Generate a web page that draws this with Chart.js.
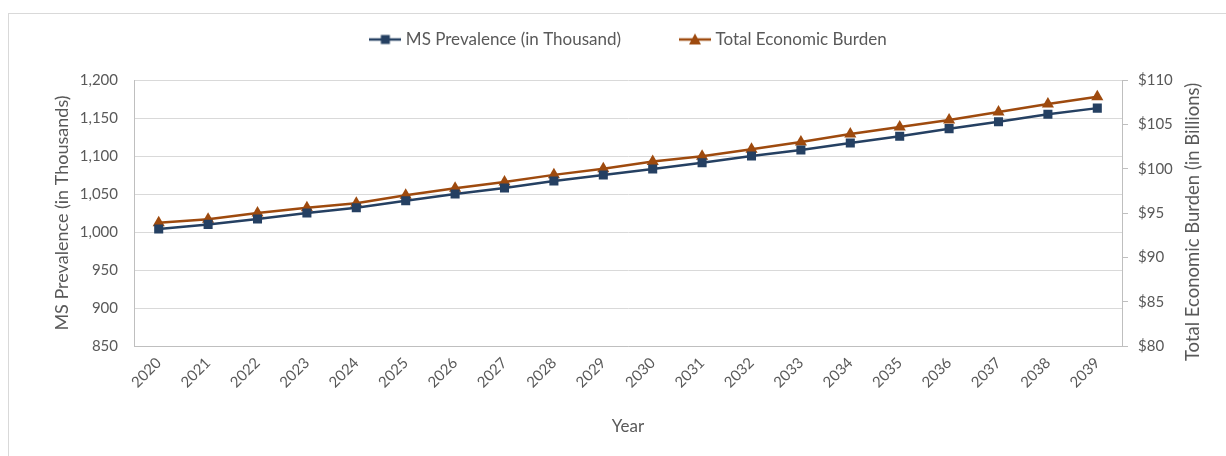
<!DOCTYPE html>
<html>
<head>
<meta charset="utf-8">
<script src="https://cdn.jsdelivr.net/npm/chart.js@4.4.1/dist/chart.umd.min.js"></script>
<style>
  html, body { margin: 0; padding: 0; background: #fff; }
  #frame { position: absolute; left: 8px; top: 13px; width: 1300px; height: 500px;
           border-left: 1px solid #d9d9d9; border-top: 1px solid #d9d9d9; }
  #wrap { position: absolute; left: 0; top: 0; width: 1226px; height: 456px; }
</style>
</head>
<body>
<div id="frame"></div>
<div id="wrap"><canvas id="myChart" width="1226" height="456"></canvas></div>
<script>
var years = ['2020', '2021', '2022', '2023', '2024', '2025', '2026', '2027', '2028', '2029',
             '2030', '2031', '2032', '2033', '2034', '2035', '2036', '2037', '2038', '2039'];
var prevalence = [1004, 1010, 1017, 1025, 1032, 1041, 1050, 1058, 1067, 1075,
                  1083, 1091, 1100, 1108, 1117, 1126, 1136, 1145, 1155, 1163];
var burden = [93.9, 94.3, 95.0, 95.6, 96.1, 97.0, 97.8, 98.5, 99.3, 100.0,
              100.8, 101.4, 102.2, 103.0, 103.9, 104.7, 105.5, 106.4, 107.3, 108.1];
var leftTicks = [850, 900, 950, 1000, 1050, 1100, 1150, 1200];
var rightTicks = [80, 85, 90, 95, 100, 105, 110];

var azul = '#254062';
var naranja = '#9e4a0e';
var gris = '#595959';

// simbolos de leyenda: linea con marcador encima
function simbolo(color, tipo) {
    var c = document.createElement('canvas');
    c.width = 32; c.height = 14;
    var g = c.getContext('2d');
    g.strokeStyle = color; g.lineWidth = 2.5;
    g.beginPath(); g.moveTo(0, 7); g.lineTo(32, 7); g.stroke();
    g.fillStyle = color;
    if (tipo === 'rect') {
        g.fillRect(11.5, 2.5, 9, 9);
    } else {
        g.beginPath(); g.moveTo(16, 1); g.lineTo(22, 12); g.lineTo(10, 12); g.closePath(); g.fill();
    }
    return c;
}
var simbolos = [simbolo(azul, 'rect'), simbolo(naranja, 'tri')];

var ajustes = {
    id: 'ajustes',
    beforeInit: function (chart) {
        // alto fijo para la leyenda, el area del grafico empieza en y=80
        var fit = chart.legend.fit;
        chart.legend.fit = function () {
            fit.call(this);
            this.height = 80;
        };
    },
    afterLayout: function (chart) {
        chart.legend.left += 17;
        chart.legend.right += 17;
        chart.legend.top -= 31;
        chart.legend.bottom -= 31;
    },
    afterDraw: function (chart) {
        var ctx = chart.ctx;
        ctx.save();
        ctx.translate(1193, 222);
        ctx.rotate(-Math.PI / 2);
        ctx.font = '18.5px Lato';
        ctx.fillStyle = gris;
        ctx.textAlign = 'center';
        ctx.textBaseline = 'middle';
        ctx.fillText('Total Economic Burden (in Billions)', 0, 0);
        ctx.restore();
    }
};

var ctx = document.getElementById('myChart').getContext('2d');
var chart = new Chart(ctx, {
    type: 'line',
    data: {
        labels: years,
        datasets: [{
            label: 'MS Prevalence (in Thousand)',
            data: prevalence,
            yAxisID: 'y',
            borderColor: azul,
            backgroundColor: azul,
            borderWidth: 2.5,
            pointStyle: 'rect',
            pointRadius: 6.4,
            pointBorderWidth: 0,
            tension: 0
        }, {
            label: 'Total Economic Burden',
            data: burden,
            yAxisID: 'y1',
            borderColor: naranja,
            backgroundColor: naranja,
            borderWidth: 2.5,
            pointStyle: 'triangle',
            pointRadius: 7,
            pointBorderWidth: 0,
            tension: 0
        }]
    },
    options: {
        responsive: false,
        animation: false,
        layout: { padding: { left: 0, right: 0, top: 0, bottom: 0 } },
        plugins: {
            tooltip: { enabled: false },
            legend: {
                position: 'top',
                labels: {
                    usePointStyle: true,
                    pointStyleWidth: 24,
                    padding: 62,
                    color: gris,
                    font: { family: 'Lato', size: 17 },
                    generateLabels: function (ch) {
                        var items = Chart.defaults.plugins.legend.labels.generateLabels(ch);
                        items.forEach(function (it, i) { it.pointStyle = simbolos[i]; });
                        return items;
                    }
                }
            }
        },
        scales: {
            x: {
                type: 'category',
                offset: true,
                grid: { display: false, drawTicks: false },
                border: { color: '#bfbfbf', width: 1 },
                ticks: {
                    color: gris,
                    font: { family: 'Lato', size: 15 },
                    minRotation: 45,
                    maxRotation: 45,
                    padding: 8
                },
                title: {
                    display: true,
                    text: 'Year',
                    color: gris,
                    font: { family: 'Lato', size: 17 },
                    padding: { top: 4, bottom: 19 }
                },
                afterFit: function (s) { s.height = 110; }
            },
            y: {
                position: 'left',
                min: 850,
                max: 1200,
                afterBuildTicks: function (s) { s.ticks = leftTicks.map(function (v) { return { value: v }; }); },
                grid: { color: '#d9d9d9', lineWidth: 1, drawTicks: false },
                border: { color: '#bfbfbf', width: 1 },
                ticks: {
                    color: gris,
                    font: { family: 'Lato', size: 15 },
                    padding: 16,
                    callback: function (v) { return v.toLocaleString('en-US'); }
                },
                title: {
                    display: true,
                    text: 'MS Prevalence (in Thousands)',
                    color: gris,
                    font: { family: 'Lato', size: 18 },
                    padding: { top: 51, bottom: 4 }
                },
                afterFit: function (s) { s.width = 134; }
            },
            y1: {
                position: 'right',
                min: 80,
                max: 110,
                afterBuildTicks: function (s) { s.ticks = rightTicks.map(function (v) { return { value: v }; }); },
                grid: { drawOnChartArea: false, color: '#bfbfbf', tickLength: 6 },
                border: { color: '#bfbfbf', width: 1 },
                ticks: {
                    color: gris,
                    font: { family: 'Lato', size: 15 },
                    padding: 10,
                    callback: function (v) { return '$' + v; }
                },
                afterFit: function (s) { s.width = 104; }
            }
        }
    },
    plugins: [ajustes]
});
</script>
</body>
</html>
